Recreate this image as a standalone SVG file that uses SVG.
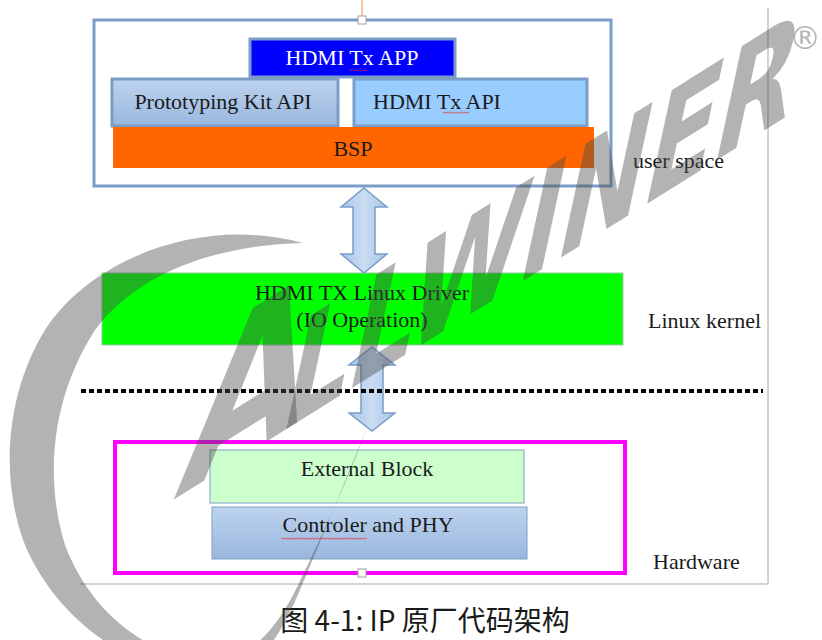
<svg xmlns="http://www.w3.org/2000/svg" width="822" height="640" viewBox="0 0 822 640">
<style>
.lbl{font-family:"Liberation Serif","Times New Roman",serif;font-size:22px;fill:#1a1a1a}
.mid{text-anchor:middle}
.box{stroke:#7b9dc7;stroke-width:3}
.thin{stroke:#7f9fc6;stroke-width:1}
.arrow{fill:url(#gArrow);stroke:#7a9dc8;stroke-width:1.5;stroke-linejoin:miter}
.wm{fill:#4a4a4a;fill-opacity:0.42}
.wmt{font-family:"DejaVu Sans",sans-serif;font-weight:bold}
.squig{fill:url(#wave)}
.handle{fill:#ffffff;stroke:#a0a0a0;stroke-width:1}
</style>
<defs>
<linearGradient id="gBlue" x1="0" y1="0" x2="0" y2="1">
<stop offset="0" stop-color="#bdd3ef"/>
<stop offset="1" stop-color="#99b7dd"/>
</linearGradient>
<linearGradient id="gArrow" x1="0" y1="0" x2="1" y2="0">
<stop offset="0" stop-color="#a9c6e8"/>
<stop offset="0.5" stop-color="#c9dcf2"/>
<stop offset="1" stop-color="#a9c6e8"/>
</linearGradient>
<pattern id="wave" width="3" height="3" patternUnits="userSpaceOnUse">
<polyline points="0,0.6 1.5,2.4 3,0.6" fill="none" stroke="#e03030" stroke-width="0.8"/>
</pattern>
</defs>
<rect width="822" height="640" fill="#ffffff"/>

<g id="frame" fill="none" stroke="#c4c4c4" stroke-width="1.5">
<line x1="768" y1="8" x2="768" y2="584"/>
<line x1="80" y1="584" x2="768" y2="584"/>
</g>

<g id="n-userspace">
<line x1="362" y1="0" x2="362" y2="17" stroke="#f4b183" stroke-width="1.5"/>
<rect x="94" y="20" width="517" height="166" fill="#ffffff" class="box"/>
<rect x="358" y="16" width="8" height="8" class="handle"/>
</g>

<g id="n-app">
<rect x="250" y="39" width="205" height="38" fill="#0000ff" class="box"/>
<text x="352" y="65" class="lbl mid" style="fill:#ffffff">HDMI Tx APP</text>
<rect x="349" y="68" width="18" height="3" class="squig"/>
</g>

<g id="n-proto">
<rect x="112" y="79" width="226" height="47" fill="url(#gBlue)" class="box"/>
<text x="223" y="109" class="lbl mid">Prototyping Kit API</text>
</g>

<g id="n-hdmiapi">
<rect x="354" y="79" width="233" height="47" fill="#99ccff" class="box"/>
<text x="373" y="109" class="lbl">HDMI Tx API</text>
<rect x="443" y="111" width="26" height="3" class="squig"/>
</g>

<g id="n-bsp">
<rect x="113" y="127" width="481" height="41" fill="#ff6600"/>
<text x="353" y="156" class="lbl mid">BSP</text>
</g>

<g id="n-driver">
<rect x="102" y="273" width="521" height="72" fill="#00ff00" stroke="#9ec4a8" stroke-width="1"/>
<text x="362" y="300" class="lbl mid">HDMI TX Linux Driver</text>
<text x="362" y="327" class="lbl mid">(IO Operation)</text>
</g>

<g id="n-hardware">
<rect x="115" y="442" width="510" height="131" fill="none" stroke="#ff00ff" stroke-width="4"/>
<rect x="358" y="569" width="8" height="8" class="handle"/>
</g>

<g id="n-external">
<rect x="210" y="450" width="314" height="53" fill="#ccffcc" class="thin"/>
<text x="367" y="476" class="lbl mid">External Block</text>
</g>

<g id="n-ctrl">
<rect x="212" y="507" width="315" height="52" fill="url(#gBlue)" class="thin"/>
<text x="368" y="532" class="lbl mid">Controler and PHY</text>
<rect x="281" y="537" width="86" height="3" class="squig"/>
</g>

<g id="layer-labels">
<text x="633" y="168" class="lbl">user space</text>
<text x="648" y="328" class="lbl">Linux kernel</text>
<text x="653" y="569" class="lbl">Hardware</text>
</g>

<g id="connectors">
<path class="arrow" d="M364,188 L387,207 L375,207 L375,254 L387,254 L364,273 L341,254 L353,254 L353,207 L341,207 Z"/>
<path class="arrow" d="M372,347 L395,365 L383,365 L383,413 L395,413 L372,431 L349,413 L361,413 L361,365 L349,365 Z"/>
<line x1="81" y1="391" x2="763" y2="391" stroke="#000000" stroke-width="4" stroke-dasharray="5 3"/>
</g>

<g id="caption">
<text x="425" y="631" text-anchor="middle" style="font-family:'Noto Sans CJK SC','Noto Sans',sans-serif;font-size:28px;fill:#1a1a1a">图 4-1: IP 原厂代码架构</text>
</g>

<g id="watermark">
<path class="wm" d="M303,243 C200,215 90,260 45,330 C5,395 0,480 25,545 C55,615 120,665 200,680 C240,688 270,660 300,590 C325,530 350,470 366,430 C352,470 325,530 298,585 C272,640 240,665 200,662 C140,650 90,610 65,545 C45,480 50,400 95,330 C140,270 220,245 303,243 Z"/>
<g transform="translate(173,500) skewY(-32) skewX(-14)">
<text class="wm wmt" x="0" y="0" textLength="125" lengthAdjust="spacingAndGlyphs" style="font-size:195px">A</text>
<text class="wm wmt" x="104" y="0" textLength="510" lengthAdjust="spacingAndGlyphs" style="font-size:135px">LLWINER</text>
</g>
<text class="wm" x="805" y="49" text-anchor="middle" style="font-family:'DejaVu Sans',sans-serif;font-size:32px">®</text>
</g>
</svg>
